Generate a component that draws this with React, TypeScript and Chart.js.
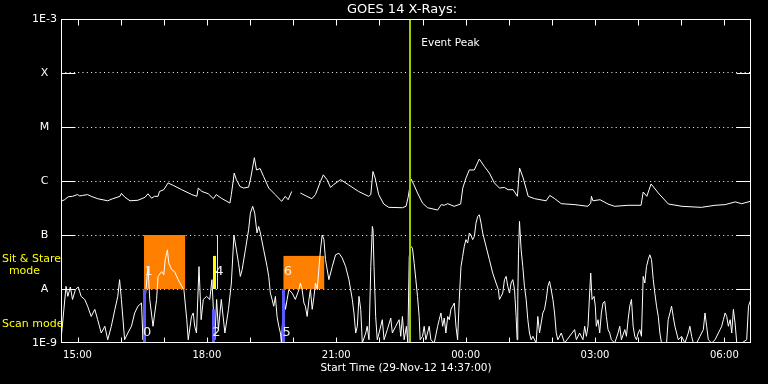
import React, { useEffect, useRef } from 'react';
import { Chart, registerables } from 'chart.js';

Chart.register(...registerables);

// ---- Data (x in minutes of day on 29-Nov-12; values past 1440 are next day) ----
const longTimes = [877,882,887,893,900,903,907,914,919,928,942,949,959,961,966,973,984,991,994,998,1003,1007,1012,1014,1020,1026,1033,1045,1059,1066,1068,1073,1082,1089,1093,1100,1112,1114,1118,1121,1126,1131,1138,1141,1146,1149,1154,1159,1166,1175,1184,1189,1193,1198,1204,1210,1219,1226,1231,1238,1242,1247,1252,1256,1266,1277,1291,1305,1308,1311,1314,1319,1326,1333,1352,1357,1360,1364,1368,1373,1380,1387,1401,1406,1410,1415,1424,1433,1436,1440,1445,1452,1459,1466,1473,1480,1487,1494,1499,1506,1512,1515,1520,1527,1536,1552,1557,1564,1573,1592,1610,1614,1615,1617,1627,1638,1647,1666,1684,1687,1692,1698,1708,1722,1741,1768,1787,1801,1815,1824,1836,1838];
const longFlux = [4.2e-7,4.5e-7,5.1e-7,5.2e-7,5.6e-7,5.3e-7,5.4e-7,5.6e-7,5.2e-7,4.7e-7,4.3e-7,4.7e-7,5.2e-7,5.9e-7,5.0e-7,4.3e-7,4.4e-7,4.8e-7,5.0e-7,5.8e-7,4.8e-7,5.2e-7,5.2e-7,6.4e-7,6.9e-7,9.2e-7,8.3e-7,6.9e-7,5.6e-7,5.2e-7,7.4e-7,6.4e-7,5.8e-7,4.7e-7,5.6e-7,4.8e-7,3.9e-7,5.6e-7,1.4e-6,1.06e-6,7.9e-7,7.4e-7,7.7e-7,1.14e-6,2.7e-6,1.6e-6,1.7e-6,1.2e-6,7.4e-7,5.6e-7,4.2e-7,5.2e-7,4.5e-7,6.4e-7,null,6.0e-7,5.2e-7,4.7e-7,5.6e-7,9.8e-7,1.3e-6,1.06e-6,7.6e-7,8.5e-7,1.06e-6,8.5e-7,6.4e-7,5.2e-7,5.6e-7,1.5e-6,1.14e-6,5.6e-7,3.75e-7,3.25e-7,3.2e-7,3.4e-7,5.0e-7,1.09e-6,8.5e-7,6.0e-7,3.9e-7,3.2e-7,2.9e-7,3.65e-7,3.55e-7,3.8e-7,3.4e-7,3.75e-7,7.4e-7,1.09e-6,1.6e-6,1.6e-6,2.55e-6,1.86e-6,1.4e-6,9.2e-7,7.4e-7,7.6e-7,6.9e-7,6.9e-7,5.2e-7,1.74e-6,1.14e-6,5.2e-7,4.7e-7,4.3e-7,5.4e-7,4.7e-7,3.8e-7,3.65e-7,3.4e-7,3.9e-7,5.2e-7,4.3e-7,4.5e-7,3.75e-7,3.4e-7,3.55e-7,3.55e-7,6.25e-7,5.2e-7,8.8e-7,6.0e-7,3.75e-7,3.4e-7,3.25e-7,3.55e-7,3.65e-7,4.1e-7,3.8e-7,4.2e-7,3.9e-7];

const shortTimes = [877,881,884,886.5,890,893,897,901,905,910,914,919,924,928,933,938,942,947,952,956,958.5,961,965.5,970,975,979.5,984,989,991,994,998,1000.5,1005,1010,1012,1017,1020,1022,1025,1027,1031,1035,1040,1045,1048,1052,1054,1058.5,1061,1063,1065.5,1069,1072,1075,1079.5,1084,1087,1091,1093.5,1096,1100,1105,1110,1114,1117.6,1121,1124,1126.5,1129,1133.5,1138,1140.5,1143.7,1146.5,1149.7,1152,1154.4,1159,1163.7,1166,1168.3,1170.7,1173,1175.3,1177.6,1180,1182.3,1183.7,1187,1189.3,1191.6,1194,1198.6,1203,1208,1210,1212.5,1215,1217,1219.5,1222,1224,1226.5,1229,1231,1233.5,1236,1238,1240.4,1242.8,1245,1249.7,1254.4,1259,1263.7,1268.3,1273,1277.6,1282.3,1284.6,1287,1289.3,1291.6,1294,1296.2,1301,1303,1305.5,1308,1310.2,1311.1,1312.5,1314.8,1317,1319.5,1324,1326.5,1331,1335.8,1338,1342.7,1347.4,1349.7,1352,1354.4,1357.6,1359.5,1361.5,1363.7,1366,1368.4,1370.7,1373,1375.3,1376.7,1380,1382.3,1384.6,1389.3,1391.6,1396.3,1401,1403.2,1405.6,1408,1410.2,1412.5,1415,1417.2,1419.5,1421.8,1424.2,1426.5,1428.8,1431.1,1433.5,1435.8,1438.1,1440.4,1442.8,1445.1,1447.4,1449.7,1452.1,1454.4,1456.7,1459,1461.4,1463.7,1468.3,1473,1477.6,1482.3,1485.6,1487,1489.3,1491.6,1494,1496.3,1498.6,1501,1503.2,1505.6,1508,1510.2,1511.6,1512.5,1513.5,1514.9,1517.2,1519.5,1521.8,1524.2,1526.5,1528.8,1531.1,1533.5,1538.1,1540.4,1542.8,1545.1,1547.4,1549.7,1552.1,1554.4,1556.7,1559,1561.4,1563.7,1566,1568.3,1573,1577.6,1591.6,1594,1598.6,1603.2,1605.6,1608,1610.2,1612.5,1614,1615.8,1618.6,1620.4,1621.8,1624.2,1626.5,1628.8,1631.1,1633.5,1635.8,1638.1,1640.4,1642.8,1647.4,1652,1654.4,1656.7,1661.4,1663.7,1666,1668.3,1670.7,1673,1675.3,1677.6,1680,1682.3,1684.6,1687,1689.3,1691.6,1694,1696.2,1698.6,1701,1703.2,1705.6,1708,1710.2,1712.5,1719.5,1721.8,1724.2,1726.5,1728.8,1731.1,1733.5,1735.8,1740.4,1745,1749.7,1752,1754.4,1756.7,1761.4,1766,1768.3,1770.7,1773,1775.3,1777.6,1782.3,1787,1791.6,1794,1796.2,1798.6,1801,1803.2,1805.5,1808,1810.2,1812.5,1814.8,1817.2,1824.2,1831,1833.5,1835.8,1837.2];
const shortFlux = [1.15e-9,4.2e-9,1.12e-8,7.3e-9,1.09e-8,6.4e-9,9.7e-9,1.09e-8,7.3e-9,6.4e-9,4.8e-9,3.1e-9,4.2e-9,2.7e-9,1.53e-9,2.04e-9,1.15e-9,2.04e-9,4.2e-9,7.3e-9,1.49e-8,6.4e-9,1.15e-9,1.53e-9,2.04e-9,3.6e-9,4.8e-9,5.5e-9,1.15e-9,6.4e-9,2.6e-8,6.4e-9,2.04e-9,6.4e-9,1.71e-8,2.1e-8,1.84e-8,3.5e-8,5.3e-8,3.0e-8,2.28e-8,2.1e-8,1.49e-8,1.12e-8,9.7e-9,2.7e-9,1.15e-9,3.1e-9,3.6e-9,2.04e-9,1.53e-9,2.6e-8,2.7e-9,6.4e-9,7.3e-9,6.4e-9,1.49e-8,1.15e-9,6.4e-9,1.77e-9,6.4e-9,1.53e-9,4.2e-9,1.29e-8,1.0e-7,5.3e-8,3.0e-8,1.71e-8,2.28e-8,5.3e-8,1.25e-7,2.55e-7,3.4e-7,2.55e-7,1.09e-7,1.44e-7,1.09e-7,5.3e-8,2.6e-8,1.71e-8,8.4e-9,6.4e-9,4.8e-9,7.3e-9,3.1e-9,2.04e-9,1.53e-9,1e-9,7.3e-9,4.2e-9,6.4e-9,9.7e-9,8.4e-9,6.4e-9,9.7e-9,1.29e-8,9.7e-9,5.5e-9,4.8e-9,3.1e-9,6.4e-9,9.7e-9,4.2e-9,7.3e-9,1.29e-8,9.7e-9,2.6e-8,5.3e-8,1.0e-7,8.2e-8,3.5e-8,1.49e-8,2.6e-8,4.3e-8,4.6e-8,3.75e-8,2.6e-8,1.49e-8,6.4e-9,3.6e-9,1.53e-9,2.04e-9,7.3e-9,4.2e-9,1e-9,1.53e-9,2.04e-9,1.15e-9,2.6e-8,1.44e-7,1.25e-7,2.6e-8,3.1e-9,1.15e-9,1.53e-9,2.7e-9,1.15e-9,1.77e-9,2.9e-9,1.53e-9,2.04e-9,2.7e-9,1.33e-9,3.1e-9,1.15e-9,2.04e-9,1e-9,4.0e-8,6.2e-8,5.7e-8,3.0e-8,1.49e-8,7.3e-9,3.1e-9,1.15e-9,1.33e-9,2.04e-9,1.15e-9,2.04e-9,1.15e-9,1e-9,2.04e-9,2.7e-9,3.6e-9,2.04e-9,2.9e-9,1.53e-9,3.1e-9,2.7e-9,4.2e-9,4.8e-9,5.5e-9,2.04e-9,1.15e-9,6.4e-9,2.6e-8,4.0e-8,6.2e-8,8.2e-8,7.1e-8,1.09e-7,1.0e-7,8.2e-8,9.4e-8,1.66e-7,2.2e-7,2.37e-7,1.66e-7,1.09e-7,6.2e-8,3.5e-8,1.98e-8,1.29e-8,9.7e-9,6.4e-9,7.3e-9,8.4e-9,1.49e-8,1.71e-8,1.12e-8,8.4e-9,1.29e-8,1.49e-8,9.7e-9,3.1e-9,1.15e-9,6.4e-9,4.6e-8,1.79e-7,5.3e-8,2.6e-8,1.12e-8,6.4e-9,2.7e-9,1.53e-9,1.15e-9,1.33e-9,1e-9,3.1e-9,1.53e-9,2.35e-9,3.6e-9,4.2e-9,6.4e-9,1.12e-8,1.39e-8,9.7e-9,6.4e-9,3.6e-9,1.53e-9,1.15e-9,1.53e-9,1e-9,1.77e-9,1.15e-9,1.53e-9,1.15e-9,2.04e-9,1.33e-9,2.04e-9,8.4e-9,1.98e-8,6.4e-9,7.3e-9,4.8e-9,2.04e-9,2.7e-9,1.53e-9,3.6e-9,5.5e-9,5.9e-9,3.1e-9,1.77e-9,1.53e-9,1.15e-9,1e-9,1.53e-9,2.04e-9,1.15e-9,1.77e-9,1.33e-9,2.7e-9,4.8e-9,6.4e-9,2.04e-9,1.33e-9,1.15e-9,1.53e-9,1.77e-9,1.33e-9,1.71e-8,1.29e-8,2.6e-8,3.5e-8,4.3e-8,3.5e-8,1.49e-8,8.4e-9,4.8e-9,3.1e-9,1.53e-9,1e-9,1e-9,2.7e-9,3.6e-9,4.8e-9,3.1e-9,2.04e-9,1.53e-9,1.15e-9,1.33e-9,1e-9,1.53e-9,2.04e-9,1.33e-9,1e-9,1e-9,1.33e-9,1.53e-9,1.77e-9,3.6e-9,2.04e-9,1.15e-9,1e-9,1.15e-9,1.53e-9,1.77e-9,2.04e-9,2.7e-9,3.6e-9,3.1e-9,2.04e-9,2.7e-9,1.53e-9,4.2e-9,2.35e-9,1e-9,1e-9,1.15e-9,4.8e-9,5.9e-9,6.4e-9];

// Axis ticks
const hourTicks = [900,960,1020,1080,1140,1200,1260,1320,1380,1440,1500,1560,1620,1680,1740,1800];
const hourLabels = ['15:00','','','18:00','','','21:00','','','00:00','','','03:00','','','06:00'];
const yTickValues = [1e-9,1e-8,1e-7,1e-6,1e-5,1e-4,1e-3];
const yTickLabels = ['1E-9','A','B','C','M','X','1E-3'];

// Sit & Stare (orange) intervals
const boxStart = [992.5, 1186.5];
const boxEnd = [1049.7, 1243.2];
const boxLow = [1e-8, 1e-8];
const boxHigh = [1e-7, 4.1e-8];
const boxLabels = ['1', '6'];
// Scan mode (blue) markers
const scanTimes = [992, 1088.4, 1186];
const scanHigh = [1e-8, 4.2e-9, 1e-8];
const scanLabels = ['0', '2', '5'];
// Yellow markers
const yellowBarTime = 1090.4;
const yellowBarRange = [1e-8, 4.1e-8];
const yellowLineTime = 1092;
const yellowLineRange = [1e-8, 1e-7];
const yellowLabel = '4';
const eventPeakTime = 1363;

const FONT = 'DejaVu Sans';

const overlay = {
  id: 'overlay',
  beforeDatasetsDraw(chart: any) {
    const { ctx, chartArea: a, scales } = chart;
    const x = scales.x, y = scales.y;
    ctx.save();
    ctx.beginPath();
    ctx.rect(a.left, a.top, a.right - a.left, a.bottom - a.top);
    ctx.clip();
    ctx.fillStyle = '#ff8000';
    for (let i = 0; i < boxStart.length; i++) {
      const x0 = x.getPixelForValue(boxStart[i]);
      const x1 = x.getPixelForValue(boxEnd[i]);
      const y0 = y.getPixelForValue(boxHigh[i]);
      const y1 = y.getPixelForValue(boxLow[i]);
      ctx.fillRect(x0, y0, x1 - x0, y1 - y0);
    }
    ctx.fillStyle = '#ffff00';
    {
      const px = x.getPixelForValue(yellowBarTime);
      const y0 = y.getPixelForValue(yellowBarRange[1]);
      const y1 = y.getPixelForValue(yellowBarRange[0]);
      ctx.fillRect(Math.round(px) - 1, y0, 3, y1 - y0);
      const pl = x.getPixelForValue(yellowLineTime);
      const l0 = y.getPixelForValue(yellowLineRange[1]);
      const l1 = y.getPixelForValue(yellowLineRange[0]);
      ctx.fillRect(Math.round(pl) + 1, l0, 1, l1 - l0);
    }
    ctx.restore();
  },
  afterDatasetsDraw(chart: any) {
    const { ctx, chartArea: a, scales } = chart;
    const x = scales.x, y = scales.y;
    ctx.save();
    // Scan-mode markers
    ctx.fillStyle = '#5a5aff';
    for (let i = 0; i < scanTimes.length; i++) {
      const px = Math.round(x.getPixelForValue(scanTimes[i]));
      const py = y.getPixelForValue(scanHigh[i]);
      ctx.fillRect(px - 1, py, 3, a.bottom - py);
    }
    // Event peak line
    const ep = x.getPixelForValue(eventPeakTime);
    ctx.fillStyle = '#9acd00';
    ctx.fillRect(Math.round(ep) - 1, a.top, 2, a.bottom - a.top);
    // number labels
    ctx.fillStyle = '#f0f0f0';
    ctx.font = `13px "${FONT}"`;
    ctx.textAlign = 'center';
    ctx.textBaseline = 'middle';
    for (let i = 0; i < boxStart.length; i++) {
      ctx.fillText(boxLabels[i], x.getPixelForValue(boxStart[i]) + 4.5, y.getPixelForValue(2.1e-8));
    }
    for (let i = 0; i < scanTimes.length; i++) {
      ctx.fillText(scanLabels[i], x.getPixelForValue(scanTimes[i]) + 3.5, y.getPixelForValue(1.55e-9));
    }
    ctx.fillText(yellowLabel, x.getPixelForValue(yellowBarTime) + 5, y.getPixelForValue(2.1e-8));
    ctx.restore();
  },
  afterDraw(chart: any) {
    const { ctx, chartArea: a, scales } = chart;
    const x = scales.x, y = scales.y;
    ctx.save();
    ctx.strokeStyle = '#fff';
    ctx.lineWidth = 1;
    const L = Math.round(a.left) + 0.5, R = Math.round(a.right) - 0.5;
    const T = Math.round(a.top) + 0.5, B = Math.round(a.bottom) - 0.5;
    ctx.strokeRect(L, T, R - L, B - T);
    ctx.beginPath();
    for (const v of hourTicks) {
      const px = Math.round(x.getPixelForValue(v)) + 0.5;
      ctx.moveTo(px, T); ctx.lineTo(px, T + 6);
      ctx.moveTo(px, B); ctx.lineTo(px, B - 5);
    }
    for (let i = 1; i < yTickValues.length - 1; i++) {
      const py = Math.round(y.getPixelForValue(yTickValues[i])) + 0.5;
      ctx.moveTo(L, py); ctx.lineTo(L + 14, py);
      ctx.moveTo(R - 14, py); ctx.lineTo(R, py);
    }
    ctx.stroke();

    ctx.fillStyle = '#fff';
    ctx.textBaseline = 'middle';
    ctx.textAlign = 'center';
    ctx.font = `13px "${FONT}"`;
    ctx.fillText('GOES 14 X-Rays:', (a.left + a.right) / 2 - 4, 10);
    ctx.font = `10.5px "${FONT}"`;
    ctx.fillText('Start Time (29-Nov-12 14:37:00)', (a.left + a.right) / 2, 368);
    ctx.textAlign = 'left';
    ctx.fillText('Event Peak', x.getPixelForValue(eventPeakTime) + 11, 43);

    ctx.fillStyle = '#ffff00';
    ctx.font = `11px "${FONT}"`;
    ctx.fillText('Sit & Stare', 2, 259);
    ctx.fillText('Scan mode', 2, 324);
    ctx.textAlign = 'center';
    ctx.fillText('mode', 24.5, 271);
    ctx.restore();
  },
};

export default function App() {
  const ref = useRef<HTMLCanvasElement>(null);
  useEffect(() => {
    const canvas = ref.current!;
    const chart = new Chart(canvas, {
      type: 'line',
      data: {
        datasets: [
          {
            label: 'long',
            data: longTimes.map((t, i) => ({ x: t, y: longFlux[i] })) as any,
            borderColor: '#ffffff',
            borderWidth: 1,
            pointRadius: 0,
            tension: 0,
            spanGaps: false,
          },
          {
            label: 'short',
            data: shortTimes.map((t, i) => ({ x: t, y: shortFlux[i] })) as any,
            borderColor: '#ffffff',
            borderWidth: 1,
            pointRadius: 0,
            tension: 0,
            spanGaps: false,
          },
        ],
      },
      options: {
        responsive: false,
        animation: false,
        devicePixelRatio: 1,
        layout: { padding: { top: 19, right: 17, left: 0, bottom: 0 } },
        plugins: {
          legend: { display: false },
          tooltip: { enabled: false },
          title: { display: false },
        },
        scales: {
          x: {
            type: 'linear',
            min: 877,
            max: 1837,
            afterBuildTicks: (s: any) => { s.ticks = hourTicks.map((v) => ({ value: v })); },
            afterFit: (s: any) => { s.height = 41; },
            grid: { display: false, drawTicks: false },
            border: { display: false },
            ticks: {
              color: '#ffffff',
              font: { family: FONT, size: 10 },
              padding: 6,
              maxRotation: 0,
              autoSkip: false,
              callback: (_v: any, i: number) => hourLabels[i],
            },
          },
          y: {
            type: 'logarithmic',
            min: 1e-9,
            max: 1e-3,
            afterBuildTicks: (s: any) => { s.ticks = yTickValues.map((v) => ({ value: v })); },
            afterFit: (s: any) => { s.width = 61; },
            grid: {
              drawTicks: false,
              lineWidth: 1,
              color: (c: any) => {
                const v = c.tick ? c.tick.value : 0;
                return v > 1e-9 * 1.5 && v < 1e-3 * 0.5 ? '#ffffff' : 'rgba(0,0,0,0)';
              },
            },
            border: { display: false, dash: [1, 3.3] },
            ticks: {
              color: '#ffffff',
              font: { family: FONT, size: 11 },
              crossAlign: 'center',
              padding: 4,
              autoSkip: false,
              callback: (_v: any, i: number) => yTickLabels[i],
            },
          },
        },
      },
      plugins: [overlay],
    } as any);
    return () => chart.destroy();
  }, []);
  return (
    <div style={{ position: 'fixed', left: 0, top: 0, width: 768, height: 384, background: '#000' }}>
      <canvas ref={ref} width={768} height={384} style={{ display: 'block' }} />
    </div>
  );
}
